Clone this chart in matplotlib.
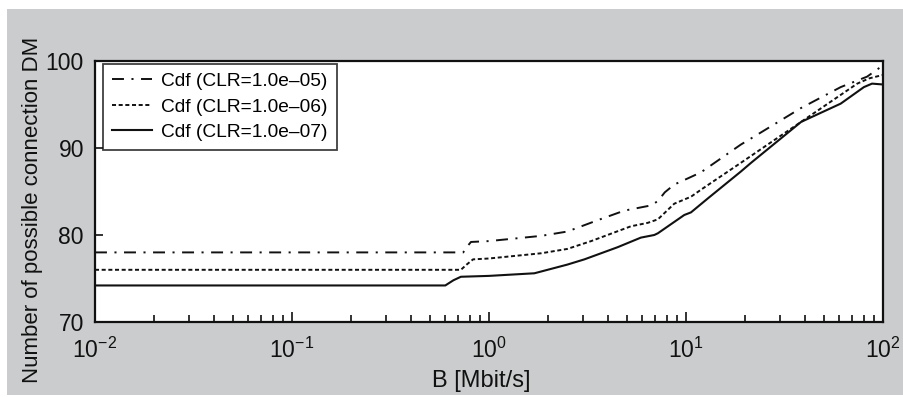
import matplotlib.pyplot as plt
from matplotlib.patches import Rectangle

plt.rcParams['font.family'] = ['Liberation Sans', 'DejaVu Sans']
plt.rcParams['mathtext.fontset'] = 'custom'
plt.rcParams['mathtext.rm'] = 'Liberation Sans'
plt.rcParams['mathtext.it'] = 'Liberation Sans'
plt.rcParams['lines.scale_dashes'] = False

# readings, B in Mbit/s
b_clr5 = [0.01, 0.74, 0.77, 0.81, 1.0, 1.84, 2.5, 3.56, 4.86, 6.64, 7.2, 7.8, 8.72,
          10.2, 11.9, 19, 21.4, 38.4, 61, 83, 100]
dm_clr5 = [78.0, 78.0, 78.6, 79.2, 79.3, 79.9, 80.4, 81.7, 82.8, 83.4, 83.9, 84.9, 85.8,
           86.5, 87.2, 90.4, 91.1, 94.6, 97.0, 98.2, 99.5]

b_clr6 = [0.01, 0.72, 0.77, 0.83, 1.0, 1.84, 2.5, 3.3, 5.25, 6.4, 7.2, 8.72,
          10.6, 11.9, 19, 26, 46.6, 74, 85, 100]
dm_clr6 = [76.0, 76.0, 76.6, 77.2, 77.3, 77.9, 78.4, 79.3, 81.0, 81.4, 81.8, 83.6,
           84.4, 85.2, 88.3, 90.4, 94.3, 97.4, 98.0, 98.4]

b_clr7 = [0.01, 0.6, 0.66, 0.72, 1.0, 1.7, 2.5, 3.05, 4.5, 5.9, 6.9, 7.2, 9.8,
          10.6, 12.9, 19, 21.4, 38.4, 61, 80, 88, 100]
dm_clr7 = [74.2, 74.2, 74.8, 75.2, 75.3, 75.6, 76.6, 77.2, 78.6, 79.7, 80.0, 80.2, 82.3,
           82.6, 84.2, 87.3, 88.3, 93.0, 95.1, 97.0, 97.4, 97.3]

labels = ['Cdf (CLR=1.0e\u201305)', 'Cdf (CLR=1.0e\u201306)', 'Cdf (CLR=1.0e\u201307)']

fig = plt.figure(figsize=(9.04, 3.97), dpi=100, facecolor='white')
fig.patches.append(Rectangle((7 / 904, 2 / 397), 1, 1 - 11 / 397, transform=fig.transFigure,
                             facecolor='#cbcccd', edgecolor='none', zorder=-10))
ax = fig.add_axes([95 / 904, 1 - 322 / 397, 788 / 904, 261 / 397])
ax.set_facecolor('white')

ax.plot(b_clr5, dm_clr5, color='#111111', lw=1.4, dashes=(8.6, 5.4, 1.5, 5.4), label=labels[0])
ax.plot(b_clr6, dm_clr6, color='#111111', lw=1.4, dashes=(2.9, 1.9), label=labels[1])
ax.plot(b_clr7, dm_clr7, color='#111111', lw=1.5, label=labels[2])

ax.set_xscale('log')
ax.set_xlim(1e-2, 1e2)
ax.set_ylim(70, 100)
ax.set_yticks([70, 80, 90, 100])

for s in ax.spines.values():
    s.set_linewidth(1.6)
    s.set_color('#111111')

ax.tick_params(axis='both', which='both', direction='in', top=False, right=False,
               labelsize=16.5, colors='#111111')
ax.tick_params(axis='x', which='major', length=7, width=1.2, pad=11)
ax.tick_params(axis='x', which='minor', length=5, width=1.2)
ax.tick_params(axis='y', which='major', length=6, width=1.2, pad=8)

ax.set_xlabel('B [Mbit/s]', fontsize=17, color='#111111')
ax.set_ylabel('Number of possible connection DM', fontsize=16, color='#111111')
ax.xaxis.set_label_coords((481 - 95) / 788, (322 - 370) / 261)
ax.yaxis.set_label_coords((43 - 95) / 788, (322 - 210) / 261)

leg = ax.legend(loc='upper left', bbox_to_anchor=(8 / 788, 1 - 3 / 261), borderaxespad=0,
                fontsize=13.8, frameon=True, fancybox=False, edgecolor='#111111',
                handlelength=2.1, handletextpad=0.5, labelspacing=0.42, borderpad=0.45)
leg.get_frame().set_linewidth(1.3)

fig.savefig('out.png', dpi=100, facecolor=fig.get_facecolor())
